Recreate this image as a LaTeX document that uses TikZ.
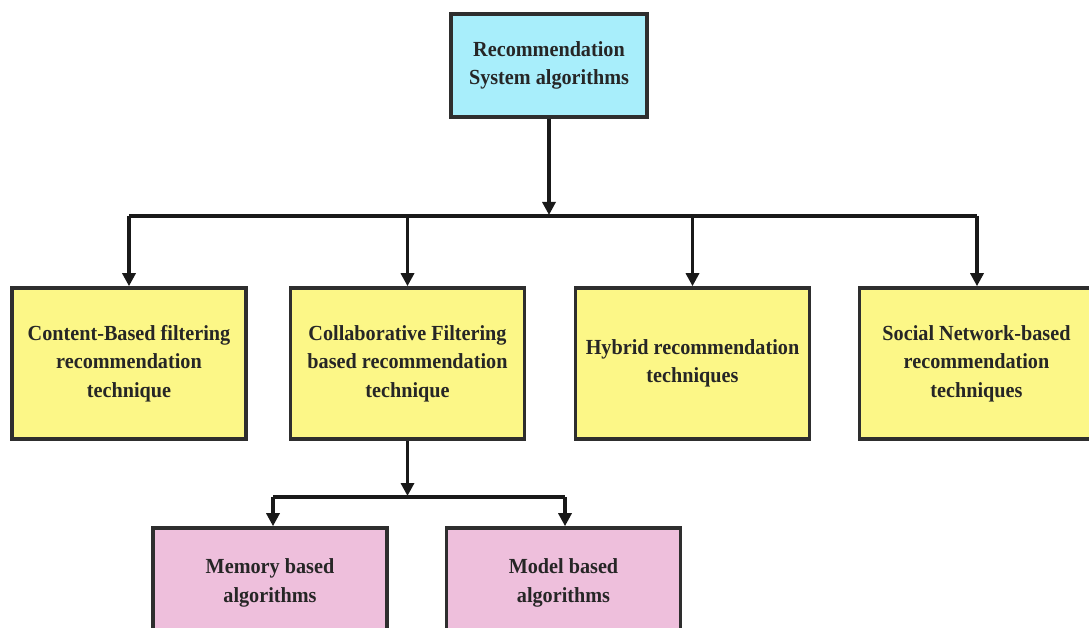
\documentclass[tikz,border=0pt]{standalone}
\usepackage{fontspec}
\setmainfont{Liberation Serif}[FakeStretch=0.94]
\usetikzlibrary{arrows.meta}
\definecolor{rootfill}{HTML}{A8EEFB}
\definecolor{techfill}{HTML}{FCF787}
\definecolor{algfill}{HTML}{EEBFDC}
\definecolor{edge}{HTML}{2E2E2E}
\tikzset{
  box/.style={draw=edge, line width=3.6pt, align=center, inner sep=0pt,
    font=\fontsize{21.5}{28.5}\selectfont\bfseries, text=black!85},
  rootbox/.style={box, fill=rootfill, minimum width=196pt, minimum height=103pt},
  techbox/.style={box, fill=techfill, minimum width=234pt, minimum height=151pt},
  algbox/.style={box, fill=algfill, minimum width=234pt, minimum height=110pt},
  conn/.style={draw=black!90, line width=3.2pt},
  arr/.style={conn, -{Triangle[length=13pt,width=13pt]}}
}
\begin{document}
\begin{tikzpicture}[x=1pt,y=-1pt]
\useasboundingbox (0,0) rectangle (1089,628);
\clip (0,0) rectangle (1089,628);
\fill[white] (0,0) rectangle (1089,628);
\node[rootbox] (root) at (549,65.5) {Recommendation\\System algorithms};
\node[techbox] (cb) at (129,363.5) {Content-Based filtering\\recommendation\\technique};
\node[techbox] (cf) at (407.5,363.5) {Collaborative Filtering\\based recommendation\\technique};
\node[techbox] (hy) at (692.5,363.5) {Hybrid recommendation\\techniques};
\node[techbox] (sn) at (976.5,363.5) {Social Network-based\\recommendation\\techniques};
\node[algbox] (mem) at (270,583) {Memory based\\algorithms};
\node[algbox] (mod) at (563.5,583) {Model based\\algorithms};
% top level connectors
\coordinate (hub) at (549,215);
\coordinate (bl) at (129,216);
\coordinate (br) at (977,216);
\draw[conn] (bl) -- (br);
\draw[arr] (root.south) -- (hub);
\draw[arr] (bl) -- (bl |- cb.north);
\draw[arr] (cf.north |- bl) -- (cf.north);
\draw[arr] (hy.north |- bl) -- (hy.north);
\draw[arr] (br) -- (br |- sn.north);
% second level connectors
\coordinate (hub2) at (407.5,496);
\coordinate (l2) at (273,497);
\coordinate (r2) at (565,497);
\draw[conn] (l2) -- (r2);
\draw[arr] (cf.south) -- (hub2);
\draw[arr] (l2) -- (l2 |- mem.north);
\draw[arr] (r2) -- (r2 |- mod.north);
\end{tikzpicture}
\end{document}
